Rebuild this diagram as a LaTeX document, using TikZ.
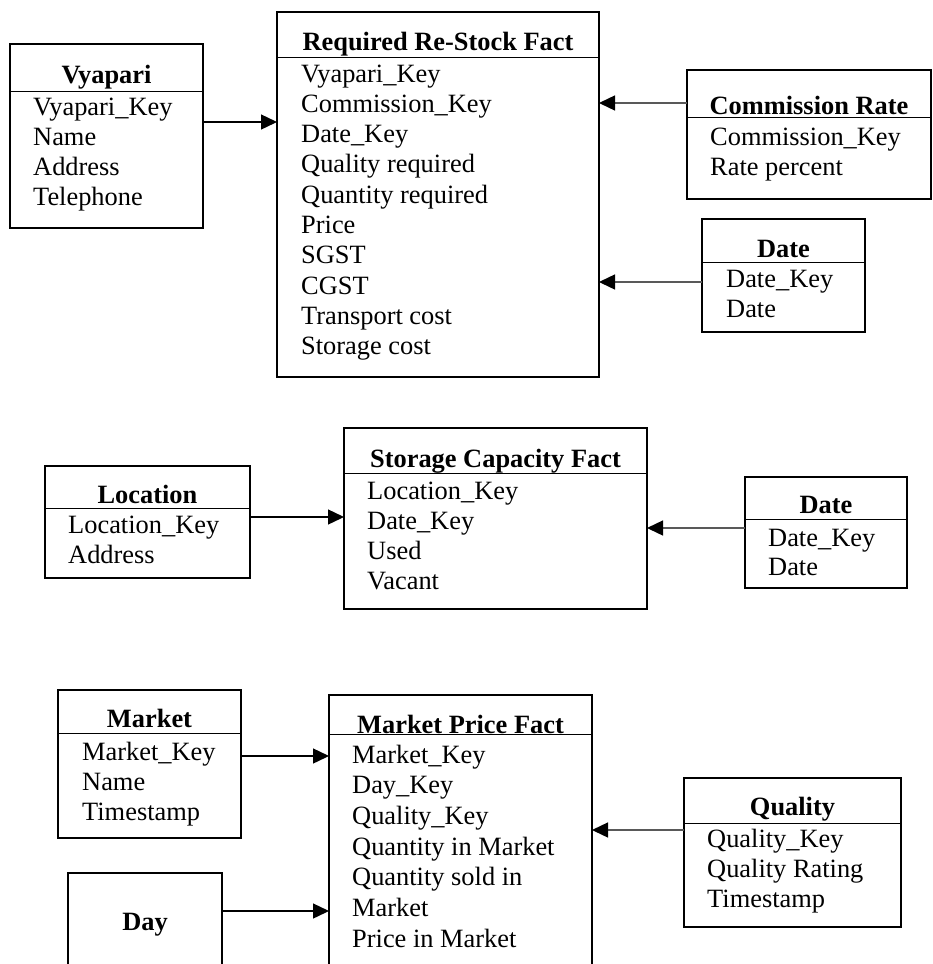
\documentclass[tikz,border=0pt]{standalone}
\usepackage{fontspec}
\setmainfont{Liberation Serif}
\usetikzlibrary{arrows.meta}

% table box: name, x1, y1, x2, y2, y of the rule under the title
\newcommand{\tablebox}[6]{%
  \node[tbl, minimum width={(#4-#2)*1pt}, minimum height={(#5-#3)*1pt}]
    (#1) at ({(#2+#4)/2},{(#3+#5)/2}) {};
  \draw[sepline] (#1.west |- 0,#6) -- (#1.east |- 0,#6);}

% attribute rows: prefix, x, first baseline, row step, list
\newcommand{\fieldlist}[5]{%
  \foreach \t [count=\i from 0] in {#5}
    \node[fld] (#1-\i) at (#2,{#3+#4*\i}) {\t};}

\begin{document}
\fontsize{26.4}{30}\selectfont
\begin{tikzpicture}[x=1pt,y=-1pt,
  tbl/.style={draw, line width=2.4pt, inner sep=0pt, outer sep=0pt},
  sepline/.style={line width=1pt},
  ttl/.style={font=\bfseries, anchor=base, inner sep=0pt},
  fld/.style={anchor=base west, inner sep=0pt},
  arr/.style={line width=1.4pt, -{Triangle[length=16pt,width=15pt]}},
  arrg/.style={line width=1.4pt, draw=black!65,
               -{Triangle[length=16pt,width=15pt,color=black]}},
]
\useasboundingbox (0,0) rectangle (933,964);
\clip (0,0) rectangle (933,964);

% ---------- Required Re-Stock star ----------
\tablebox{vy}{10}{44}{203}{228}{91}
\node[ttl] (vy-t) at (106.5,83) {Vyapari};
\fieldlist{vy}{33}{115}{30}{Vyapari\_Key, Name, Address, Telephone}

\tablebox{f1}{277}{12}{599}{377}{57}
\node[ttl] (f1-t) at (438,50) {Required Re-Stock Fact};
\fieldlist{f1}{301}{82}{30.3}{Vyapari\_Key, Commission\_Key, Date\_Key,
  Quality required, Quantity required, Price, SGST, CGST,
  Transport cost, Storage cost}

\tablebox{cr}{687}{70}{931}{199}{117}
\node[ttl] (cr-t) at (809,114) {Commission Rate};
\fieldlist{cr}{710}{145}{30}{Commission\_Key, Rate percent}

\tablebox{d1}{702}{219}{865}{332}{262}
\node[ttl] (d1-t) at (783.5,257) {Date};
\fieldlist{d1}{726}{287}{30}{Date\_Key, Date}

\draw[arr]  (vy.east |- 0,122) -- (f1.west |- 0,122);
\draw[arrg] (cr.west |- 0,103) -- (f1.east |- 0,103);
\draw[arrg] (d1.west |- 0,282) -- (f1.east |- 0,282);

% ---------- Storage Capacity star ----------
\tablebox{loc}{45}{466}{250}{578}{508}
\node[ttl] (loc-t) at (147.5,503) {Location};
\fieldlist{loc}{68}{533}{30.5}{Location\_Key, Address}

\tablebox{sc}{344}{428}{647}{609}{473}
\node[ttl] (sc-t) at (495.5,467) {Storage Capacity Fact};
\fieldlist{sc}{367}{499}{30}{Location\_Key, Date\_Key, Used, Vacant}

\tablebox{d2}{745}{477}{907}{588}{519}
\node[ttl] (d2-t) at (826,513) {Date};
\fieldlist{d2}{768}{546}{29.5}{Date\_Key, Date}

\draw[arr]  (loc.east |- 0,517) -- (sc.west |- 0,517);
\draw[arrg] (d2.west |- 0,528) -- (sc.east |- 0,528);

% ---------- Market Price star ----------
\tablebox{mk}{58}{690}{241}{838}{733}
\node[ttl] (mk-t) at (149.5,727) {Market};
\fieldlist{mk}{82}{760}{30}{Market\_Key, Name, Timestamp}

\node[tbl, minimum width=154pt, minimum height=127pt] (day) at (145,936.5) {};
\node[ttl] (day-t) at (145,930) {Day};

\tablebox{mpf}{329}{695}{592}{1000}{734}
\node[ttl] (mpf-t) at (460.5,733) {Market Price Fact};
\fieldlist{mpf}{352}{763}{30.7}{Market\_Key, Day\_Key, Quality\_Key,
  Quantity in Market, Quantity sold in, Market, Price in Market}

\tablebox{ql}{684}{778}{901}{927}{823}
\node[ttl] (ql-t) at (792.5,815) {Quality};
\fieldlist{ql}{707}{847}{30}{Quality\_Key, Quality Rating, Timestamp}

\draw[arr]  (mk.east |- 0,756) -- (mpf.west |- 0,756);
\draw[arr]  (day.east |- 0,911) -- (mpf.west |- 0,911);
\draw[arrg] (ql.west |- 0,830) -- (mpf.east |- 0,830);
\end{tikzpicture}
\end{document}
